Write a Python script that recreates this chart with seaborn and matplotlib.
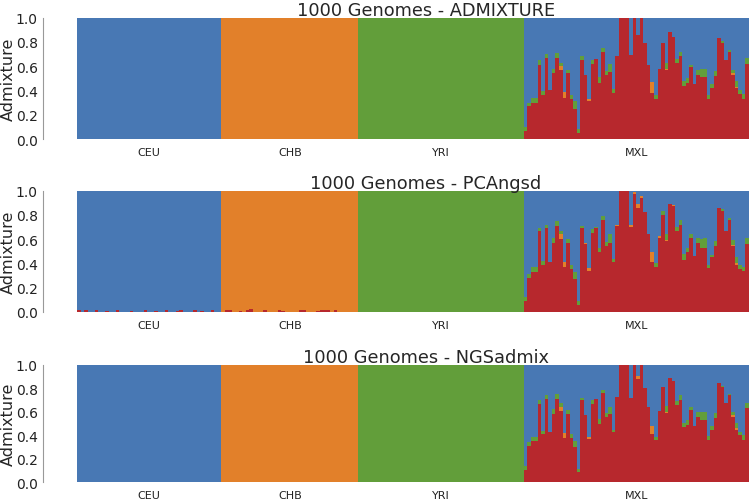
import numpy as np
import pandas as pd
import matplotlib.pyplot as plt
import seaborn as sns

# 집단 정보
pops = ['CEU', 'CHB', 'YRI', 'MXL']
n_samples = [41, 39, 47, 64]

# 성분 (hue 순서: 마지막이 맨 아래)
comps = ['European', 'African', 'East Asian', 'Native American']
palette = {'European': '#4878b4', 'African': '#629e3a',
           'East Asian': '#e2802a', 'Native American': '#b7282d'}

titles = ['1000 Genomes - ADMIXTURE', '1000 Genomes - PCAngsd', '1000 Genomes - NGSadmix']

##### ADMIXTURE #####
adm_ceu_red = [0.0] * 41
adm_chb_red = [0.0] * 39
adm_mxl_red = [0.07, 0.27, 0.30, 0.30, 0.61, 0.36, 0.67, 0.40, 0.54, 0.67,
               0.57, 0.34, 0.54, 0.33, 0.25, 0.05, 0.65, 0.53, 0.31, 0.62,
               0.66, 0.46, 0.72, 0.53, 0.55, 0.38, 0.68, 1.00, 1.00, 1.00,
               0.69, 1.00, 0.86, 1.00, 0.79, 0.61, 0.38, 0.33, 0.58, 0.79,
               0.57, 0.88, 0.84, 0.63, 0.68, 0.44, 0.46, 0.59, 0.45, 0.53,
               0.51, 0.51, 0.33, 0.42, 0.52, 0.83, 0.79, 0.65, 0.72, 0.53,
               0.42, 0.37, 0.33, 0.62]
adm_mxl_orange = [0, 0, 0, 0, 0, 0, 0, 0, 0, 0,
                  0.03, 0.05, 0, 0, 0, 0, 0, 0, 0.02, 0,
                  0, 0, 0, 0, 0, 0, 0, 0, 0, 0,
                  0, 0, 0, 0, 0, 0, 0.09, 0, 0, 0,
                  0.01, 0, 0, 0, 0, 0, 0, 0, 0, 0,
                  0, 0, 0, 0, 0, 0, 0, 0, 0, 0.01,
                  0.01, 0, 0, 0]
adm_mxl_green = [0.03, 0.03, 0.035, 0.035, 0.04, 0.035, 0.03, 0, 0.04, 0.04,
                 0.03, 0, 0.03, 0.03, 0.06, 0.03, 0.03, 0, 0, 0.03,
                 0, 0.05, 0.03, 0.03, 0.07, 0.03, 0, 0, 0, 0,
                 0, 0, 0, 0, 0, 0, 0, 0.03, 0, 0,
                 0.05, 0, 0, 0.03, 0.04, 0.04, 0.04, 0.02, 0, 0.04,
                 0.07, 0.07, 0.035, 0.03, 0.04, 0, 0.015, 0, 0.015, 0.03,
                 0.05, 0.03, 0.04, 0.05]

##### PCAngsd #####
pca_ceu_red = [0.02, 0.0, 0.015, 0.0, 0.0, 0.02, 0.0, 0.0, 0.01, 0.0,
               0.0, 0.015, 0.0, 0.0, 0.0, 0.01, 0.0, 0.0, 0.0, 0.015,
               0.0, 0.0, 0.01, 0.0, 0.0, 0.02, 0.0, 0.0, 0.01, 0.015,
               0.0, 0.0, 0.0, 0.02, 0.0, 0.01, 0.0, 0.0, 0.015, 0.0, 0.0]
pca_chb_red = [0.0, 0.015, 0.02, 0.0, 0.0, 0.01, 0.0, 0.02, 0.025, 0.0,
               0.0, 0.0, 0.015, 0.0, 0.0, 0.0, 0.02, 0.01, 0.0, 0.0,
               0.0, 0.0, 0.015, 0.02, 0.0, 0.0, 0.0, 0.01, 0.015, 0.02,
               0.02, 0.0, 0.015, 0.0, 0.0, 0.0, 0.0, 0.0, 0.0]
pca_mxl_red = [0.09, 0.28, 0.33, 0.33, 0.67, 0.39, 0.69, 0.41, 0.57, 0.71,
               0.60, 0.37, 0.57, 0.35, 0.27, 0.06, 0.69, 0.56, 0.34, 0.65,
               0.69, 0.49, 0.76, 0.54, 0.57, 0.415, 0.71, 1.00, 1.00, 1.00,
               0.70, 0.97, 0.86, 0.94, 0.82, 0.64, 0.41, 0.37, 0.61, 0.80,
               0.585, 0.885, 0.87, 0.67, 0.72, 0.43, 0.49, 0.61, 0.46, 0.57,
               0.53, 0.53, 0.36, 0.45, 0.54, 0.86, 0.83, 0.67, 0.76, 0.54,
               0.39, 0.35, 0.34, 0.56]
pca_mxl_orange = [0, 0, 0, 0, 0, 0, 0, 0, 0, 0,
                  0.04, 0.04, 0, 0, 0, 0, 0, 0.01, 0.02, 0,
                  0, 0, 0, 0, 0, 0, 0.01, 0, 0, 0,
                  0.02, 0.015, 0.03, 0.015, 0, 0, 0.08, 0, 0.015, 0,
                  0.01, 0, 0.01, 0, 0, 0, 0, 0, 0, 0,
                  0, 0, 0, 0, 0, 0, 0, 0, 0, 0.01,
                  0.01, 0, 0, 0]
pca_mxl_green = [0.03, 0.03, 0.04, 0.04, 0.02, 0.03, 0.03, 0, 0.035, 0.035,
                 0.03, 0, 0.03, 0.035, 0.06, 0.03, 0.02, 0, 0, 0.035,
                 0.01, 0.04, 0.03, 0.035, 0.07, 0.02, 0, 0, 0, 0,
                 0, 0, 0, 0, 0, 0, 0, 0.03, 0, 0.03,
                 0.05, 0, 0, 0.03, 0.04, 0.05, 0.035, 0.03, 0, 0.035,
                 0.07, 0.075, 0.03, 0.02, 0.045, 0, 0.02, 0, 0.015, 0.04,
                 0.05, 0.04, 0.03, 0.05]

##### NGSadmix #####
ngs_ceu_red = [0.0] * 41
ngs_chb_red = [0.0] * 39
ngs_mxl_red = [0.11, 0.31, 0.35, 0.35, 0.67, 0.41, 0.71, 0.43, 0.585, 0.71,
               0.61, 0.38, 0.585, 0.38, 0.30, 0.09, 0.70, 0.57, 0.37, 0.67,
               0.71, 0.50, 0.76, 0.56, 0.585, 0.43, 0.73, 1.00, 1.00, 1.00,
               0.72, 1.00, 0.88, 1.00, 0.80, 0.64, 0.41, 0.36, 0.61, 0.81,
               0.59, 0.89, 0.86, 0.66, 0.70, 0.47, 0.49, 0.62, 0.48, 0.56,
               0.53, 0.53, 0.36, 0.45, 0.55, 0.85, 0.81, 0.68, 0.74, 0.56,
               0.45, 0.40, 0.36, 0.63]
ngs_mxl_orange = [0, 0, 0, 0, 0, 0, 0, 0, 0, 0,
                  0.035, 0.04, 0, 0, 0, 0, 0, 0, 0.015, 0,
                  0, 0, 0, 0, 0, 0, 0, 0, 0, 0,
                  0, 0, 0.03, 0, 0, 0, 0.07, 0, 0, 0,
                  0.01, 0, 0, 0, 0, 0, 0, 0, 0, 0,
                  0, 0, 0, 0, 0, 0, 0, 0, 0, 0.01,
                  0.01, 0, 0, 0]
ngs_mxl_green = [0.03, 0.03, 0.04, 0.035, 0.03, 0.03, 0.03, 0, 0.04, 0.045,
                 0.03, 0, 0.03, 0.03, 0.055, 0.025, 0.02, 0, 0, 0.03,
                 0, 0.04, 0.03, 0.03, 0.06, 0.02, 0, 0, 0, 0,
                 0, 0, 0, 0, 0, 0, 0, 0.03, 0, 0,
                 0.05, 0, 0, 0.03, 0.04, 0.04, 0.04, 0.02, 0, 0.04,
                 0.07, 0.07, 0.035, 0.03, 0.04, 0, 0.015, 0, 0.015, 0.03,
                 0.05, 0.03, 0.04, 0.05]

panel_data = [
    (adm_ceu_red, adm_chb_red, adm_mxl_red, adm_mxl_orange, adm_mxl_green),
    (pca_ceu_red, pca_chb_red, pca_mxl_red, pca_mxl_orange, pca_mxl_green),
    (ngs_ceu_red, ngs_chb_red, ngs_mxl_red, ngs_mxl_orange, ngs_mxl_green),
]


# Q 행렬 -> long 형식
def make_frame(ceu_red, chb_red, mxl_red, mxl_orange, mxl_green):
    ceu_red = np.array(ceu_red)
    chb_red = np.array(chb_red)
    mxl_red = np.array(mxl_red)
    mxl_orange = np.array(mxl_orange)
    mxl_green = np.array(mxl_green)
    n_yri = n_samples[2]
    q = {
        'European': np.concatenate([1 - ceu_red, np.zeros(len(chb_red)), np.zeros(n_yri),
                                    np.clip(1 - mxl_red - mxl_orange - mxl_green, 0, 1)]),
        'African': np.concatenate([np.zeros(len(ceu_red)), np.zeros(len(chb_red)), np.ones(n_yri), mxl_green]),
        'East Asian': np.concatenate([np.zeros(len(ceu_red)), 1 - chb_red, np.zeros(n_yri), mxl_orange]),
        'Native American': np.concatenate([ceu_red, chb_red, np.zeros(n_yri), mxl_red]),
    }
    wide = pd.DataFrame(q)
    wide['sample'] = np.arange(len(wide))
    return wide.melt(id_vars='sample', var_name='comp', value_name='q')


sns.set_style('white')
plt.rcParams['font.family'] = ['DejaVu Sans']

fig = plt.figure(figsize=(7.49, 5.02), dpi=100)
bottoms = [0.721, 0.3765, 0.037]
heights = [0.242, 0.242, 0.234]

starts = np.cumsum([0] + n_samples[:-1])
centers = starts + (np.array(n_samples) - 1) / 2
total = sum(n_samples)

for i in range(3):
    ax = fig.add_axes([0.1028, bottoms[i], 0.8972, heights[i]])
    df = make_frame(*panel_data[i])
    sns.histplot(data=df, x='sample', weights='q', hue='comp', hue_order=comps,
                 palette=palette, multiple='stack', discrete=True, shrink=1,
                 linewidth=0, alpha=1, legend=False, ax=ax)
    ax.set_xlim(-0.5, total - 0.5)
    ax.set_ylim(0, 1)
    ax.set_xticks(centers)
    ax.set_xticklabels(pops, fontsize=8)
    ax.set_yticks([0, 0.2, 0.4, 0.6, 0.8, 1.0])
    ax.set_yticklabels(['0.0', '0.2', '0.4', '0.6', '0.8', '1.0'], fontsize=9)
    ax.set_xlabel('')
    ax.set_ylabel('Admixture', fontsize=11.5)
    ax.yaxis.set_label_coords(-0.091, 0.5)
    ax.set_title(titles[i], fontsize=12.8, pad=2)
    ax.title.set_position((0.519, 1.0))

    for s in ['top', 'right', 'bottom']:
        ax.spines[s].set_visible(False)
    ax.spines['left'].set_position(('outward', 24.5))
    ax.spines['left'].set_color('#999999')
    ax.tick_params(axis='y', length=2.5, color='#999999', labelcolor='#222222', pad=1.2)
    ax.tick_params(axis='x', length=3.5, color='#999999', labelcolor='#222222', pad=2)

fig.savefig('out.png', dpi=100)
